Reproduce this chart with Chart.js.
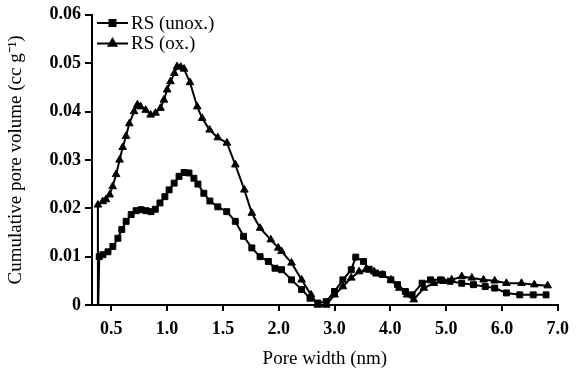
<!DOCTYPE html>
<html>
<head>
<meta charset="utf-8">
<script src="https://cdn.jsdelivr.net/npm/chart.js@4/dist/chart.umd.min.js"></script>
<style>
  html, body { margin: 0; padding: 0; background: #fff; }
  #wrap { width: 577px; height: 372px; position: relative; }
</style>
</head>
<body>
<div id="wrap"><canvas id="chart"></canvas></div>
<script>
// pore width (nm) and cumulative pore volume (cc/g)
const poreUnox = [0.383, 0.392, 0.425, 0.47, 0.514, 0.559, 0.594, 0.633, 0.678, 0.722, 0.767, 0.811, 0.856, 0.894,
  0.936, 0.98, 1.018, 1.063, 1.107, 1.152, 1.196, 1.24, 1.276, 1.329, 1.383, 1.454, 1.534, 1.611, 1.685, 1.759,
  1.833, 1.907, 1.967, 2.05, 2.23, 2.41, 2.56, 2.70, 2.85, 3.0, 3.15, 3.30, 3.38, 3.52, 3.62, 3.74, 3.86, 4.01,
  4.13, 4.27, 4.39, 4.57, 4.72, 4.90, 5.07, 5.28, 5.49, 5.70, 5.87, 6.08, 6.32, 6.56, 6.79];
const volUnox = [0.0, 0.0100, 0.0104, 0.0110, 0.0121, 0.0138, 0.0156, 0.0173, 0.0187, 0.0195, 0.0197, 0.0195, 0.0193, 0.0198,
  0.0211, 0.0224, 0.0238, 0.0252, 0.0266, 0.0274, 0.0273, 0.0262, 0.0250, 0.0231, 0.0215, 0.0203, 0.0193, 0.0173, 0.0142, 0.0118,
  0.0100, 0.0090, 0.0076, 0.0073, 0.0052, 0.0032, 0.0014, 0.0004, 0.0007, 0.0028, 0.0052, 0.0073, 0.0099, 0.0090, 0.0074, 0.0066, 0.0063, 0.0052,
  0.0042, 0.0028, 0.0021, 0.0045, 0.0052, 0.0052, 0.0049, 0.0045, 0.0042, 0.0038, 0.0035, 0.0025, 0.0021, 0.0021, 0.0021];

const poreOx = [0.378, 0.38, 0.423, 0.452, 0.485, 0.512, 0.543, 0.574, 0.602, 0.632, 0.661, 0.704, 0.734, 0.763,
  0.808, 0.852, 0.896, 0.941, 0.971, 1.0, 1.03, 1.065, 1.089, 1.122, 1.152, 1.205, 1.27, 1.314, 1.381, 1.454,
  1.536, 1.611, 1.692, 1.759, 1.833, 1.929, 1.996, 2.05, 2.23, 2.41, 2.58, 2.70, 2.85, 3.0, 3.15, 3.30, 3.44,
  3.56, 3.71, 3.86, 4.01, 4.16, 4.30, 4.42, 4.60, 4.78, 4.96, 5.10, 5.28, 5.46, 5.67, 5.87, 6.08, 6.35, 6.58, 6.82];
const volOx = [0.0, 0.0207, 0.0214, 0.0218, 0.0228, 0.0245, 0.0270, 0.0300, 0.0326, 0.0349, 0.0375, 0.0400, 0.0414, 0.0410,
  0.0403, 0.0393, 0.0397, 0.0407, 0.0424, 0.0445, 0.0462, 0.0479, 0.0493, 0.0492, 0.0488, 0.0460, 0.0410, 0.0386, 0.0362, 0.0346,
  0.0335, 0.0290, 0.0238, 0.0190, 0.0159, 0.0135, 0.0118, 0.0111, 0.0087, 0.0052, 0.0021, 0.0, 0.0, 0.0021, 0.0038, 0.0056, 0.0069,
  0.0073, 0.0069, 0.0063, 0.0052, 0.0035, 0.0021, 0.0011, 0.0035, 0.0045, 0.0049, 0.0052, 0.0059, 0.0056, 0.0052, 0.0050, 0.0045, 0.0045, 0.0042, 0.0040];

const xTickLabels = ['0.5', '1.0', '1.5', '2.0', '3.0', '4.0', '5.0', '6.0', '7.0'];
const yTicks = [0, 0.01, 0.02, 0.03, 0.04, 0.05, 0.06];
const seriesNames = ['RS (unox.)', 'RS (ox.)'];

// the axis is stretched below 2 nm: 0.5 nm per tick there, 1 nm per tick above
function toAxis(nm) {
  return nm <= 2 ? nm : 2 + (nm - 2) / 2;
}

const serif = "'Liberation Serif', 'Times New Roman', serif";

const legendPlugin = {
  id: 'lineLegend',
  afterDraw(chart) {
    const ctx = chart.ctx;
    ctx.save();
    chart.data.datasets.forEach((ds, i) => {
      const y = 23 + i * 20.5;
      ctx.strokeStyle = '#000';
      ctx.lineWidth = 2;
      ctx.beginPath();
      ctx.moveTo(97, y);
      ctx.lineTo(128, y);
      ctx.stroke();
      Chart.helpers.drawPoint(ctx, {
        pointStyle: ds.pointStyle, radius: ds.markerSize, rotation: 0, borderWidth: 1
      }, 112.5, y);
      ctx.fillStyle = '#000';
      ctx.font = '19px ' + serif;
      ctx.textBaseline = 'middle';
      ctx.textAlign = 'left';
      ctx.fillText(ds.label, 131, y + 1);
    });
    ctx.restore();
  }
};

const makePoints = (xs, ys) => xs.map((x, i) => ({ x: toAxis(x), y: ys[i] }));

// the first point of each curve sits on the axis with no marker
const markerRadius = (size) => (c) => c.dataIndex === 0 ? 0 : size;

new Chart(document.getElementById('chart'), {
  type: 'scatter',
  data: {
    datasets: [
      {
        label: seriesNames[0],
        data: makePoints(poreUnox, volUnox),
        showLine: true,
        borderColor: '#000',
        backgroundColor: '#000',
        borderWidth: 2,
        pointStyle: 'rect',
        markerSize: 4.2,
        pointRadius: markerRadius(4.2),
        pointBorderWidth: 1,
        clip: false
      },
      {
        label: seriesNames[1],
        data: makePoints(poreOx, volOx),
        showLine: true,
        borderColor: '#000',
        backgroundColor: '#000',
        borderWidth: 2,
        pointStyle: 'triangle',
        markerSize: 4.4,
        pointRadius: markerRadius(4.4),
        pointBorderWidth: 1,
        clip: false
      }
    ]
  },
  options: {
    responsive: true,
    maintainAspectRatio: false,
    animation: false,
    layout: { padding: { top: 14, right: 15, left: 0, bottom: 0 } },
    plugins: {
      legend: { display: false },
      tooltip: { enabled: false }
    },
    scales: {
      x: {
        type: 'linear',
        min: 0.327,
        max: 4.5,
        afterFit: (scale) => { scale.height = 67; },
        afterBuildTicks: (scale) => {
          scale.ticks = xTickLabels.map(l => ({ value: toAxis(parseFloat(l)) }));
        },
        grid: { drawOnChartArea: false, drawTicks: true, tickLength: 6, color: '#000', lineWidth: 2 },
        border: { color: '#000', width: 2 },
        ticks: {
          color: '#000',
          padding: 8,
          maxRotation: 0,
          font: { family: serif, size: 18, weight: 'bold' },
          callback: (value, index) => xTickLabels[index]
        },
        title: {
          display: true,
          text: 'Pore width (nm)',
          color: '#000',
          padding: { top: 0, bottom: 2 },
          font: { family: serif, size: 19 }
        }
      },
      y: {
        min: 0,
        max: 0.06,
        afterFit: (scale) => { scale.width = 92; },
        afterBuildTicks: (scale) => {
          scale.ticks = yTicks.map(v => ({ value: v }));
        },
        grid: { drawOnChartArea: false, drawTicks: true, tickLength: 7, color: '#000', lineWidth: 2 },
        border: { color: '#000', width: 2 },
        ticks: {
          color: '#000',
          padding: 4,
          font: { family: serif, size: 18, weight: 'bold' },
          callback: (value) => value === 0 ? '0' : value.toFixed(2)
        },
        title: {
          display: true,
          text: 'Cumulative pore volume (cc g\u207B\u00B9)',
          color: '#000',
          padding: { top: 5, bottom: 0 },
          font: { family: serif, size: 19 }
        }
      }
    }
  },
  plugins: [legendPlugin]
});
</script>
</body>
</html>
